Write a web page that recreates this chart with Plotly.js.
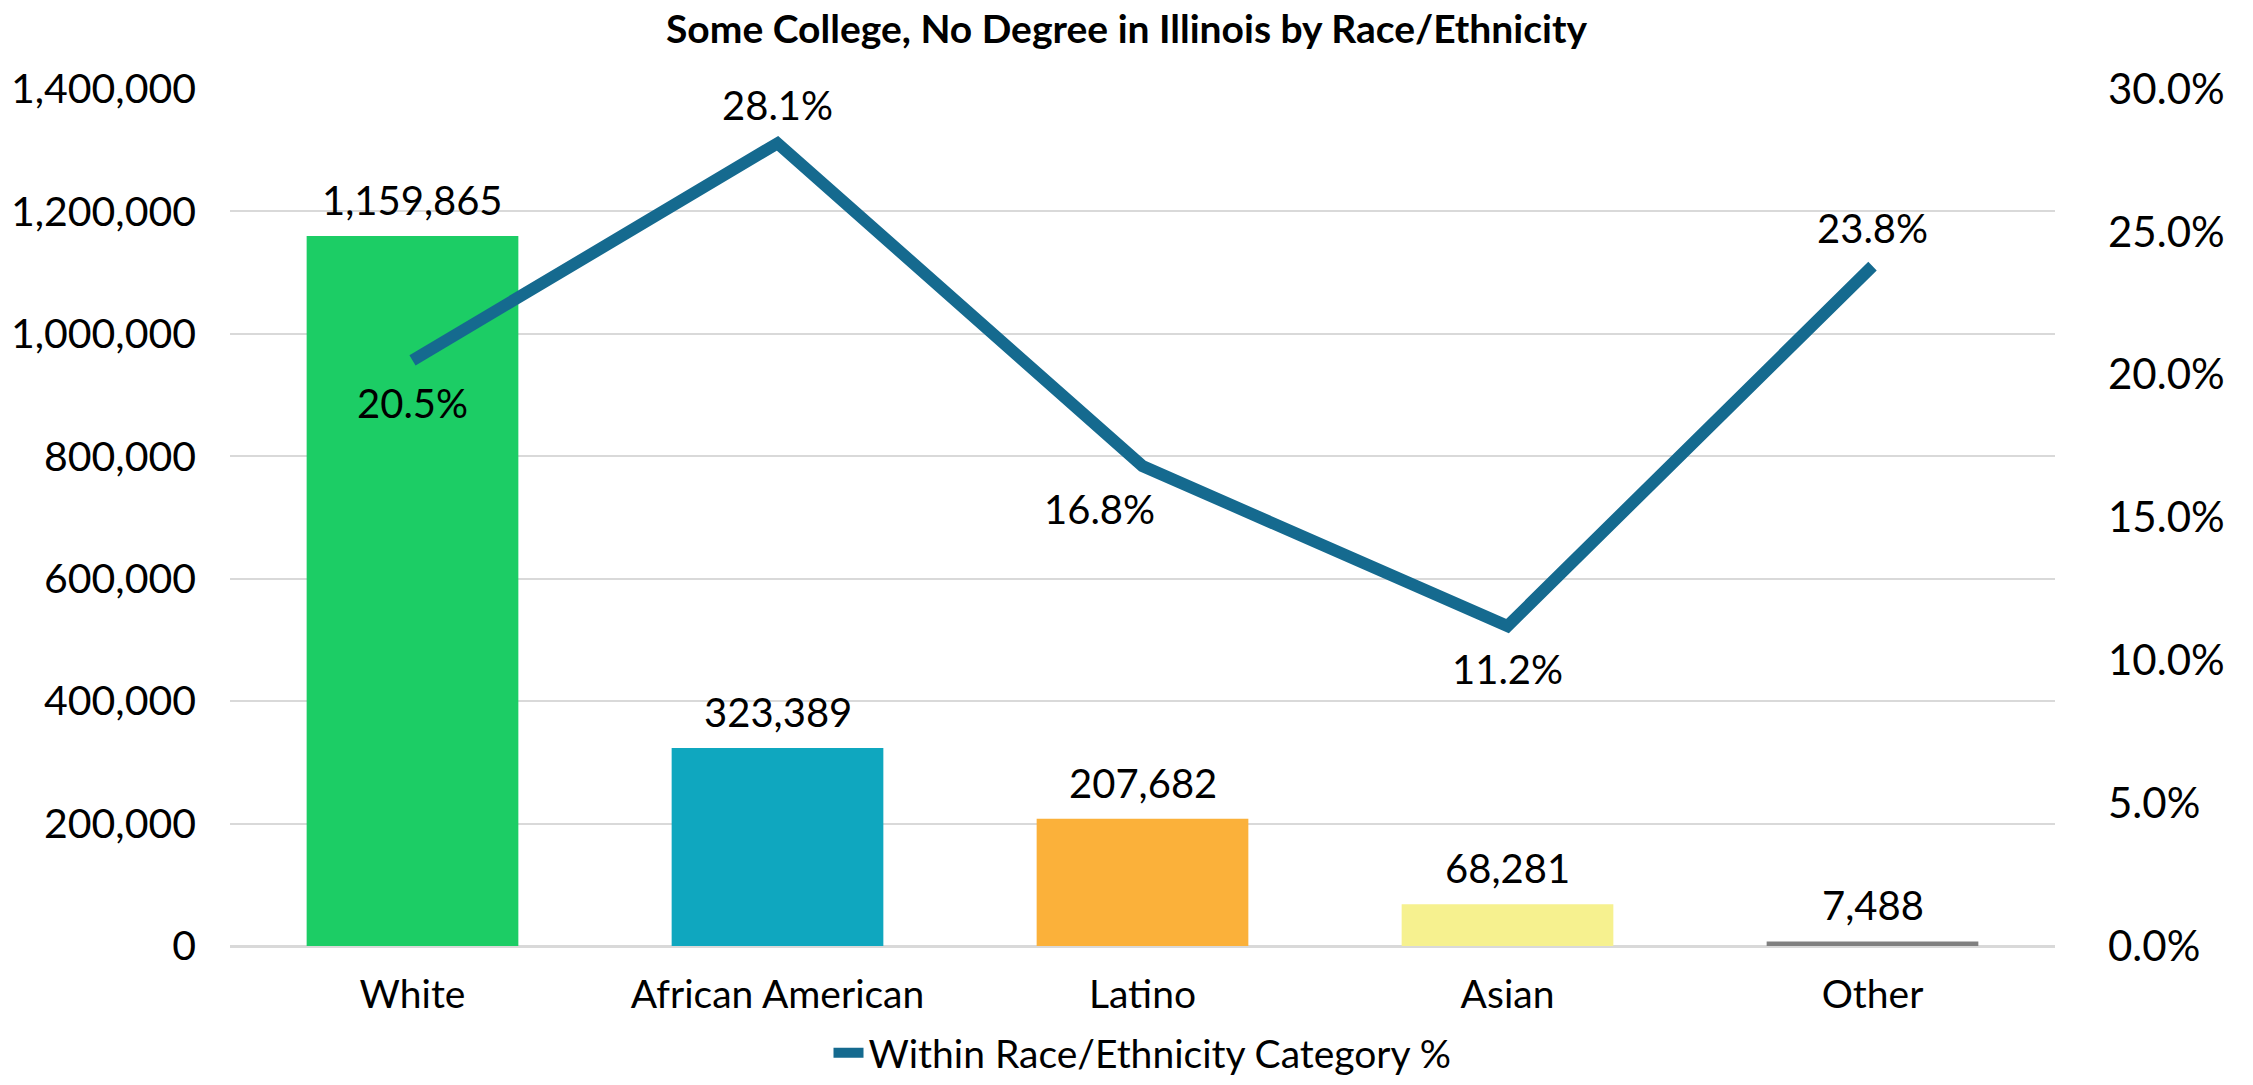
<!DOCTYPE html>
<html><head><meta charset="utf-8">
<script src="https://cdn.plot.ly/plotly-3.0.1.min.js"></script>
<style>html,body{margin:0;padding:0;background:#fff;}#chart{width:2253px;height:1085px;}</style>
</head><body><div id="chart"></div>
<script>
const categories = ["White", "African American", "Latino", "Asian", "Other"];
const counts = [1159865, 323389, 207682, 68281, 7488];
const withinPct = [0.205, 0.281, 0.168, 0.112, 0.238];
const barColors = ["#1CCD65", "#0FA7BF", "#FBB13A", "#F6F18F", "#808080"];
const pctLabelAbove = [false, true, false, false, true];
const leftTicks = [0, 200000, 400000, 600000, 800000, 1000000, 1200000, 1400000];
const rightTicks = [0, 0.05, 0.10, 0.15, 0.20, 0.25, 0.30];

const FONT = "Lato, 'Open Sans', sans-serif";
const fmtInt = v => v.toLocaleString("en-US");
const fmtPct = v => (v * 100).toFixed(1) + "%";

const bars = {
  type: "bar", x: categories, y: counts,
  marker: {color: barColors},
  showlegend: false, hoverinfo: "skip"
};
const line = {
  type: "scatter", mode: "lines", x: categories, y: withinPct, yaxis: "y2",
  name: "Within Race/Ethnicity Category %",
  line: {color: "#156A8F", width: 12},
  hoverinfo: "skip"
};

const annotations = [];
categories.forEach((c, i) => {
  annotations.push({x: c, y: counts[i], xref: "x", yref: "y", text: fmtInt(counts[i]),
    showarrow: false, yanchor: "bottom", yshift: 10, font: {family: FONT, size: 40, color: "#000"}});
  annotations.push({x: c, y: withinPct[i], xref: "x", yref: "y2", text: fmtPct(withinPct[i]),
    showarrow: false, yanchor: "middle", yshift: pctLabelAbove[i] ? 38 : -43, xshift: i === 2 ? -43 : 0,
    font: {family: FONT, size: 40, color: "#000"}});
});

const layout = {
  width: 2253, height: 1085,
  margin: {l: 230, r: 198, t: 89, b: 139},
  paper_bgcolor: "#fff", plot_bgcolor: "#fff",
  font: {family: FONT, color: "#000", size: 39},
  title: {text: "<b>Some College, No Degree in Illinois by Race/Ethnicity</b>",
          font: {family: FONT, size: 39, color: "#000"}, x: 0.5, xanchor: "center", y: 0.973, yanchor: "middle"},
  bargap: 0.42,
  xaxis: {type: "category", showgrid: false, showline: false, zeroline: false,
          ticks: "", ticklabelstandoff: 22, tickfont: {size: 39}},
  yaxis: {range: [0, 1400000], tickvals: leftTicks, ticktext: leftTicks.map(fmtInt),
          showgrid: true, gridcolor: "#D9D9D9", gridwidth: 2, zeroline: true, zerolinecolor: "#D9D9D9", zerolinewidth: 3,
          ticks: "", ticklabelstandoff: 33, tickfont: {size: 41}},
  yaxis2: {range: [0, 0.30], tickvals: rightTicks, tickformat: ".1%", overlaying: "y", side: "right",
           showgrid: false, zeroline: false, ticks: "", ticklabelstandoff: 52, tickfont: {size: 42}},
  annotations: annotations,
  showlegend: true,
  legend: {orientation: "h", x: 0.5, xanchor: "center", xref: "paper", yref: "container", y: 0, yanchor: "bottom",
           font: {size: 39}, bgcolor: "rgba(0,0,0,0)"}
};
Plotly.newPlot("chart", [bars, line], layout, {staticPlot: true});
</script></body></html>
